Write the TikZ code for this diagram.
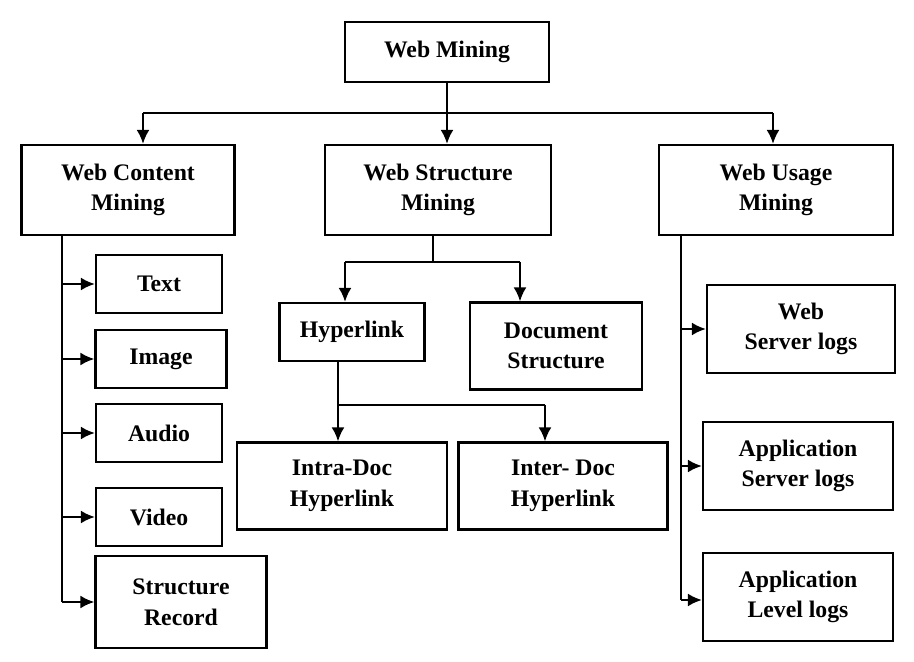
\documentclass[tikz,border=0pt]{standalone}
\usepackage{fontspec}
\setmainfont{Liberation Serif}
\usetikzlibrary{positioning, arrows.meta}

\begin{document}
\begin{tikzpicture}[x=0.02cm, y=-0.02cm,
  box/.style={draw, line width=1.2pt, align=center, font=\bfseries\fontsize{13.5}{17.5}\selectfont, inner sep=0pt},
  arr/.style={-{Latex[length=2.8mm, width=2.6mm]}, line width=1.4pt},
  ln/.style={line width=1.4pt}]
\useasboundingbox (0,0) rectangle (914,662);
\node[box, minimum width=204*0.02cm, minimum height=60*0.02cm] (web) at (447,52) {Web Mining};
\node[box, minimum width=213*0.02cm, minimum height=90*0.02cm] (content) at (128,190) {Web Content\\Mining};
\node[box, minimum width=226*0.02cm, minimum height=90*0.02cm] (structure) at (438,190) {Web Structure\\Mining};
\node[box, minimum width=234*0.02cm, minimum height=90*0.02cm] (usage) at (776,190) {Web Usage\\Mining};
\node[box, minimum width=126*0.02cm, minimum height=58*0.02cm] (text) at (159,284) {Text};
\node[box, minimum width=131*0.02cm, minimum height=58*0.02cm] (image) at (161,359) {Image};
\node[box, minimum width=126*0.02cm, minimum height=58*0.02cm] (audio) at (159,433) {Audio};
\node[box, minimum width=126*0.02cm, minimum height=58*0.02cm] (video) at (159,517) {Video};
\node[box, minimum width=171*0.02cm, minimum height=92*0.02cm] (record) at (181,602) {Structure\\Record};
\node[box, minimum width=145*0.02cm, minimum height=58*0.02cm] (hyperlink) at (352,332) {Hyperlink};
\node[box, minimum width=172*0.02cm, minimum height=87*0.02cm] (docstruct) at (556,346) {Document\\Structure};
\node[box, minimum width=210*0.02cm, minimum height=87*0.02cm] (intra) at (342,486) {Intra-Doc\\Hyperlink};
\node[box, minimum width=209*0.02cm, minimum height=87*0.02cm] (inter) at (563,486) {Inter- Doc\\Hyperlink};
\node[box, minimum width=188*0.02cm, minimum height=88*0.02cm] (weblogs) at (801,329) {Web\\Server logs};
\node[box, minimum width=190*0.02cm, minimum height=88*0.02cm] (applogs) at (798,466) {Application\\Server logs};
\node[box, minimum width=190*0.02cm, minimum height=88*0.02cm] (levellogs) at (798,597) {Application\\Level logs};
% top branch
\coordinate (tl) at (143,113);
\coordinate (tr) at (773,113);
\draw[ln] (web.south) -- (web.south |- tl);
\draw[ln] (tl) -- (tr);
\draw[arr] (tl) -- (tl |- content.north);
\draw[arr] (web.south |- tl) -- (structure.north -| web.south);
\draw[arr] (tr) -- (tr |- usage.north);
% content branch
\coordinate (cb) at (62,235);
\draw[ln] (cb) -- (62,602);
\foreach \n in {text, image, audio, video, record}
  \draw[arr] (cb |- \n.west) -- (\n.west);
% structure branch
\coordinate (sl) at (345,262);
\coordinate (sr) at (520,262);
\draw[ln] (structure.south -| 433,0) -- (433,262);
\draw[ln] (sl) -- (sr);
\draw[arr] (sl) -- (sl |- hyperlink.north);
\draw[arr] (sr) -- (sr |- docstruct.north);
\coordinate (hl) at (338,405);
\coordinate (hr) at (545,405);
\draw[ln] (hyperlink.south -| hl) -- (hl) -- (hr);
\draw[arr] (hl) -- (hl |- intra.north);
\draw[arr] (hr) -- (hr |- inter.north);
% usage branch
\coordinate (ub) at (681,235);
\draw[ln] (ub) -- (681,600);
\foreach \n in {weblogs, applogs}
  \draw[arr] (ub |- \n.west) -- (\n.west);
\draw[arr] (681,600) -- (levellogs.west |- 0,600);
\end{tikzpicture}
\end{document}
